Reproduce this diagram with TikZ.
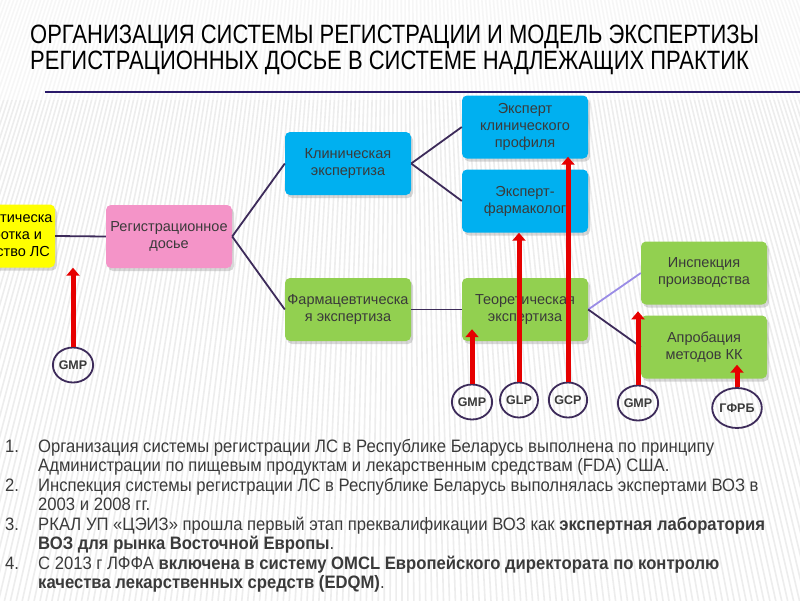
\documentclass[tikz,border=0pt]{standalone}
\usepackage{fontspec}
\setmainfont{Liberation Sans}
\newfontfamily\titlefont[FakeStretch=0.83]{Liberation Sans}
\newfontfamily\listfont[FakeStretch=0.925]{Liberation Sans}
\usetikzlibrary{shadows,arrows.meta,shapes.geometric,calc}
\definecolor{boxyellow}{HTML}{FFFF00}
\definecolor{boxpink}{HTML}{F494C8}
\definecolor{boxblue}{HTML}{00B0F0}
\definecolor{boxgreen}{HTML}{92D050}
\definecolor{linkcol}{HTML}{3D2B5A}
\definecolor{lavender}{HTML}{9A8CE6}
\definecolor{rulecol}{HTML}{2A1A6A}
\definecolor{arrowred}{HTML}{E60000}
\definecolor{txtgray}{HTML}{3A3A3A}
\definecolor{stripecol}{HTML}{EDEDED}
\tikzset{
  box/.style={rounded corners=5pt, minimum width=126pt, minimum height=63pt,
    align=center, inner sep=2pt, font=\fontsize{14.5}{17}\selectfont, text=txtgray,
    drop shadow={shadow xshift=2pt, shadow yshift=-3pt, opacity=0.3}},
  link/.style={draw=linkcol, line width=1.8pt},
  redarrow/.style={draw=arrowred, line width=5pt, -{Triangle[width=13pt,length=8pt]}},
  circ/.style={ellipse, draw=linkcol, line width=1.8pt, minimum width=38pt,
    minimum height=35pt, inner sep=0pt, text=txtgray,
    font=\bfseries\fontsize{12.5}{13}\selectfont},
  titletext/.style={anchor=base west, inner sep=0pt, text=black,
    font=\titlefont\fontsize{26.5}{30}\selectfont},
  listtext/.style={anchor=base west, inner sep=0pt, text=txtgray,
    font=\listfont\fontsize{18}{20}\selectfont},
}
\begin{document}
\begin{tikzpicture}[x=1pt,y=-1pt]
\useasboundingbox (0,0) rectangle (800,600);
\clip (0,0) rectangle (800,600);
\fill[white] (0,0) rectangle (800,600);
% background stripes
\foreach \s in {-300,-294,...,1100}{
  \draw[stripecol, line width=1.6pt] (400,-1100) -- (\s,620);
}
\fill[white, opacity=0.55] (0,0) rectangle (800,100);
% title
\node[titletext] (t1) at (30,43) {ОРГАНИЗАЦИЯ СИСТЕМЫ РЕГИСТРАЦИИ И МОДЕЛЬ ЭКСПЕРТИЗЫ};
\node[titletext] (t2) at (30,69) {РЕГИСТРАЦИОННЫХ ДОСЬЕ В СИСТЕМЕ НАДЛЕЖАЩИХ ПРАКТИК};
\coordinate (r1) at (45,92);
\coordinate (r2) at (800,92);
\draw[rulecol, line width=2pt] (r1) -- (r2);
% boxes
\node[box, fill=boxyellow, text=black] (yel) at (-8,236) {Фармацевтическа\\я разработка и\\производство ЛС};
\node[box, fill=boxpink] (pink) at (169,236.5) {Регистрационное\\досье};
\node[box, fill=boxblue] (clin) at (348,163.5) {Клиническая\\экспертиза};
\node[box, fill=boxblue] (expclin) at (525,127) {Эксперт\\клинического\\профиля};
\node[box, fill=boxblue] (exppharm) at (525,201) {Эксперт-\\фармаколог};
\node[box, fill=boxgreen] (pharm) at (348,309.5) {Фармацевтическа\\я экспертиза};
\node[box, fill=boxgreen] (theor) at (525,309.5) {Теоретическая\\экспертиза};
\node[box, fill=boxgreen] (insp) at (704,273) {Инспекция\\производства};
\node[box, fill=boxgreen] (approb) at (704,347) {Апробация\\методов КК};
% connectors
\draw[link] (yel.east) -- (pink.west);
\draw[link] (pink.east) -- (clin.west);
\draw[link] (pink.east) -- (pharm.west);
\draw[link] (clin.east) -- (expclin.west);
\draw[link] (clin.east) -- (exppharm.west);
\draw[link] (pharm.east) -- (theor.west);
\draw[link, draw=lavender] (theor.east) -- (insp.west);
\draw[link] (theor.east) -- (approb.west);
% circles
\node[circ] (gmpa) at (73,365) {GMP};
\node[circ] (gmpb) at (472,402) {GMP};
\node[circ] (glp) at (519,400) {GLP};
\node[circ] (gcp) at (568,400) {GCP};
\node[circ] (gmpc) at (638,403) {GMP};
\node[circ, minimum width=42pt, minimum height=40pt] (gfrb) at (737,408) {ГФРБ};
% red arrows
\draw[redarrow] (gmpa.north) -- (gmpa.north |- yel.south);
\draw[redarrow] (gmpb.north) -- ($(gmpb.north |- theor.south)+(0,-12)$);
\draw[redarrow] (glp.north) -- (glp.north |- exppharm.south);
\draw[redarrow] (gcp.north) -- ($(gcp.north |- expclin.south)+(0,-2)$);
\draw[redarrow] (gmpc.north) -- ($(gmpc.north |- approb.north)+(0,-4)$);
\draw[redarrow] (gfrb.north) -- ($(gfrb.north |- approb.south)+(0,-14)$);
% list
\node[listtext] (n1) at (5,452) {1.};
\node[listtext] (l1a) at (38,452) {Организация системы регистрации ЛС в Республике Беларусь выполнена по принципу};
\node[listtext] (l1b) at (38,471.5) {Администрации по пищевым продуктам и лекарственным средствам (FDA) США.};
\node[listtext] (n2) at (5,491) {2.};
\node[listtext] (l2a) at (38,491) {Инспекция системы регистрации ЛС в Республике Беларусь выполнялась экспертами ВОЗ в};
\node[listtext] (l2b) at (38,510.5) {2003 и 2008 гг.};
\node[listtext] (n3) at (5,530) {3.};
\node[listtext] (l3a) at (38,530) {РКАЛ УП «ЦЭИЗ» прошла первый этап преквалификации ВОЗ как \textbf{экспертная лаборатория}};
\node[listtext] (l3b) at (38,549.5) {\textbf{ВОЗ для рынка Восточной Европы}.};
\node[listtext] (n4) at (5,569) {4.};
\node[listtext] (l4a) at (38,569) {С 2013 г ЛФФА \textbf{включена в систему OMCL Европейского директората по контролю}};
\node[listtext] (l4b) at (38,588.5) {\textbf{качества лекарственных средств (EDQM)}.};
\end{tikzpicture}
\end{document}
